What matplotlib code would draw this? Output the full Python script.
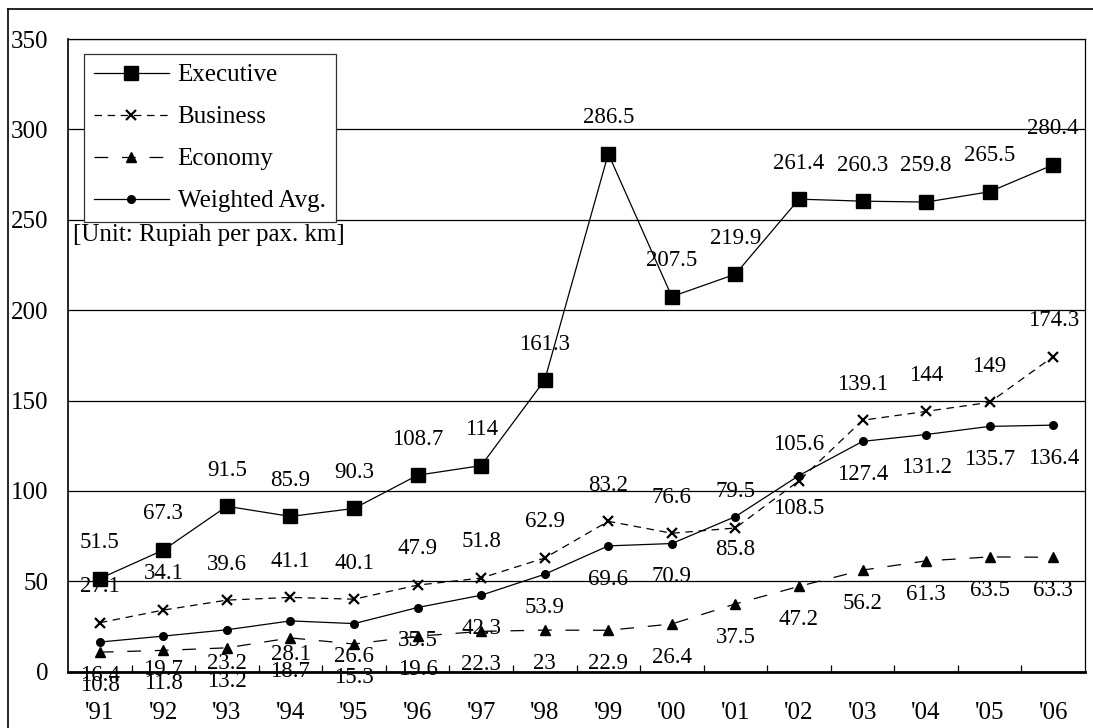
import matplotlib.pyplot as plt
from matplotlib.lines import Line2D

plt.rcParams['font.family'] = ['Liberation Serif', 'DejaVu Serif']

years = ["'91", "'92", "'93", "'94", "'95", "'96", "'97", "'98",
         "'99", "'00", "'01", "'02", "'03", "'04", "'05", "'06"]

executive = [51.5, 67.3, 91.5, 85.9, 90.3, 108.7, 114, 161.3,
             286.5, 207.5, 219.9, 261.4, 260.3, 259.8, 265.5, 280.4]
business = [27.1, 34.1, 39.6, 41.1, 40.1, 47.9, 51.8, 62.9,
            83.2, 76.6, 79.5, 105.6, 139.1, 144, 149, 174.3]
economy = [10.8, 11.8, 13.2, 18.7, 15.3, 19.6, 22.3, 23,
           22.9, 26.4, 37.5, 47.2, 56.2, 61.3, 63.5, 63.3]
weighted = [16.4, 19.7, 23.2, 28.1, 26.6, 35.5, 42.3, 53.9,
            69.6, 70.9, 85.8, 108.5, 127.4, 131.2, 135.7, 136.4]

yticks = [0, 50, 100, 150, 200, 250, 300, 350]

fig = plt.figure(figsize=(10.93, 7.28), dpi=100)
ax = fig.add_axes([68 / 1093, 1 - 671.7 / 728, 1017 / 1093, 632.7 / 728])

x = [i + 0.5 for i in range(len(years))]

# series: (values, label, line kwargs, label offset in points)
series = [
    (executive, 'Executive', dict(ls='-', marker='s', ms=9.5), 26),
    (business, 'Business', dict(ls=(0, (6, 4.5)), marker='x', ms=6.5, mew=1.6), 26),
    (economy, 'Economy', dict(ls=(0, (11, 11)), marker='^', ms=7.5), -24),
    (weighted, 'Weighted Avg.', dict(ls='-', marker='o', ms=5.5), -24),
]

for vals, name, kw, off in series:
    ax.plot(x, vals, color='black', lw=0.9, mfc='black', mec='black',
            label=name, zorder=3, **kw)
    for xi, v in zip(x, vals):
        ax.annotate(f'{v:g}', (xi, v), xytext=(0, off), textcoords='offset points',
                    ha='center', va='center', fontsize=16.5, zorder=5)

ax.set_xlim(0, len(years))
ax.set_ylim(0, 350)
ax.set_yticks(yticks)
ax.set_yticklabels([str(t) for t in yticks], fontsize=18)
ax.yaxis.grid(True, color='black', lw=0.9)
ax.set_axisbelow(True)
ax.tick_params(axis='y', length=0, pad=14)

# category ticks sit between years, labels in the middle
ax.set_xticks(range(1, len(years)))
ax.set_xticklabels([])
ax.set_xticks(x, minor=True)
ax.set_xticklabels(years, minor=True, fontsize=18)
ax.tick_params(axis='x', which='major', direction='in', length=5, width=0.9)
ax.tick_params(axis='x', which='minor', length=0, pad=22)

for side in ['top', 'right']:
    ax.spines[side].set_linewidth(0.9)
ax.spines['left'].set_linewidth(1.2)
ax.spines['bottom'].set_linewidth(2)

leg = ax.legend(loc='upper left', bbox_to_anchor=(0.0157, 0.9763), fontsize=18,
                frameon=True, fancybox=False, edgecolor='#333333', framealpha=1,
                handlelength=3.0, handletextpad=0.35, labelspacing=0.78,
                borderpad=0.4, borderaxespad=0)
leg.get_frame().set_linewidth(0.9)

ax.text(0.005, 0.690, '[Unit: Rupiah per pax. km]', transform=ax.transAxes,
        ha='left', va='center', fontsize=18)

# outer chart frame
fig.add_artist(Line2D([7.5 / 1093, 7.5 / 1093], [0, 1 - 9 / 728], color='black', lw=1.2))
fig.add_artist(Line2D([7.5 / 1093, 1], [1 - 9 / 728, 1 - 9 / 728], color='black', lw=1.2))

fig.savefig('out.png', dpi=100)
